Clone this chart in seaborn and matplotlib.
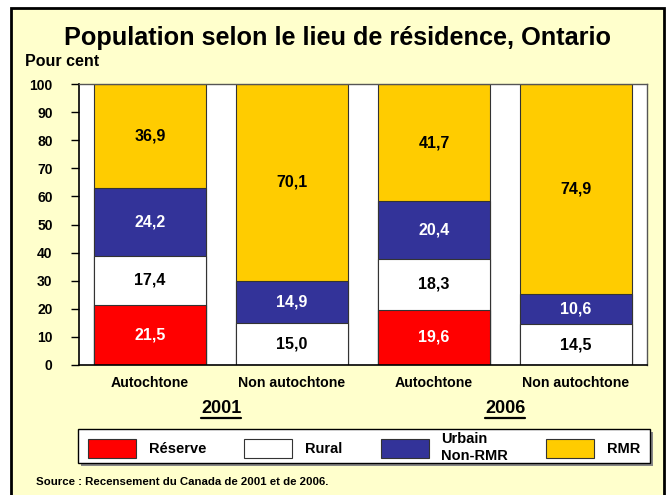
import numpy as np
import matplotlib
matplotlib.use("Agg")
import matplotlib.pyplot as plt
from matplotlib.patches import Patch, Rectangle
from matplotlib.lines import Line2D
import seaborn as sns

# -----------------------------------------------------
# Data
# -----------------------------------------------------
bar_ids = ["A2001", "N2001", "A2006", "N2006"]
bar_labels = ["Autochtone", "Non autochtone", "Autochtone", "Non autochtone"]
years = ["2001", "2006"]

reserve = [21.5, 0.0, 19.6, 0.0]
rural = [17.4, 15.0, 18.3, 14.5]
urbain = [24.2, 14.9, 20.4, 10.6]
rmr = [36.9, 70.1, 41.7, 74.9]

series_names = ["Réserve", "Rural", "Urbain\nNon-RMR", "RMR"]
series_colors = ["#FF0000", "#FFFFFF", "#333399", "#FFCC00"]
text_colors = ["white", "black", "white", "black"]

# -----------------------------------------------------
# Style
# -----------------------------------------------------
sns.set_theme(style="white")
plt.rcParams["font.family"] = ["Liberation Sans", "DejaVu Sans"]
plt.rcParams["font.weight"] = "bold"
plt.rcParams["text.color"] = "black"

W, H = 667, 495
fig = plt.figure(figsize=(W / 100, H / 100), dpi=100, facecolor="white")

# yellow panel with black frame
fig.patches.append(Rectangle((11 / W, -0.05), (664 - 11) / W, 1.05 - 8 / H,
                             transform=fig.transFigure, facecolor="#FFFFCC",
                             edgecolor="black", linewidth=2, zorder=-10))

ax = fig.add_axes([79 / W, (H - 365) / H, (647 - 79) / W, (365 - 84) / H])
ax.set_facecolor("white")

# -----------------------------------------------------
# Stacked bars (drawn back to front as cumulative sums)
# -----------------------------------------------------
layers = np.array([reserve, rural, urbain, rmr])
cum = layers.cumsum(axis=0)
for i in range(3, -1, -1):
    sns.barplot(x=bar_ids, y=cum[i], color=series_colors[i], saturation=1,
                edgecolor="#333333", linewidth=0.8, width=0.785, ax=ax)

bottoms = cum - layers
for i in range(4):
    for j in range(4):
        v = layers[i][j]
        if v <= 0:
            continue
        ax.text(j, bottoms[i][j] + v / 2, f"{v:.1f}".replace(".", ","),
                ha="center", va="center", fontsize=11.5, fontweight="bold",
                color=text_colors[i])

ax.set_xlim(-0.5, 3.5)
ax.set_ylim(0, 100)
ax.set_yticks(range(0, 101, 10))
ax.set_xticks(range(4))
ax.set_xticklabels(bar_labels, fontsize=10.2, fontweight="bold", color="black")
for lab in ax.get_yticklabels():
    lab.set_fontsize(10)
    lab.set_fontweight("bold")
    lab.set_color("black")
ax.set_xlabel("")
ax.set_ylabel("")
ax.tick_params(axis="y", left=True, length=6, width=1, color="black", pad=13)
ax.tick_params(axis="x", bottom=False, pad=2)
for side in ["left", "bottom"]:
    ax.spines[side].set_color("black")
    ax.spines[side].set_linewidth(1.2)
for side in ["top", "right"]:
    ax.spines[side].set_color("#555555")
    ax.spines[side].set_linewidth(1)

# year labels (underlined)
year_texts = []
for k, yr in enumerate(years):
    t = ax.text(2 * k + 0.5, -0.155, yr, transform=ax.get_xaxis_transform(),
                ha="center", va="center", fontsize=13, fontweight="bold")
    year_texts.append(t)

# -----------------------------------------------------
# Titles and source
# -----------------------------------------------------
fig.text(338 / W, 1 - 38 / H, "Population selon le lieu de résidence, Ontario",
         ha="center", va="center", fontsize=18.2, fontweight="bold")
fig.text(25 / W, 1 - 61 / H, "Pour cent", ha="left", va="center",
         fontsize=11.5, fontweight="bold")
fig.text(36 / W, 1 - 482 / H, "Source : Recensement du Canada de 2001 et de 2006.",
         ha="left", va="center", fontsize=8.2, fontweight="bold")

# -----------------------------------------------------
# Legend (frame drawn separately so inner margins match)
# -----------------------------------------------------
fig.patches.append(Rectangle((81 / W, 1 - 466 / H), (650 - 78) / W, 34 / H,
                             transform=fig.transFigure, facecolor="#888888",
                             edgecolor="none", zorder=4))
fig.patches.append(Rectangle((78 / W, 1 - 463 / H), (650 - 78) / W, 34 / H,
                             transform=fig.transFigure, facecolor="white",
                             edgecolor="black", linewidth=1, zorder=5))

handles = [Patch(facecolor=c, edgecolor="#333333", linewidth=0.8) for c in series_colors]
leg = fig.legend(handles, series_names, ncol=4, mode="expand",
                 bbox_to_anchor=(88 / W, 1 - 459 / H, (640 - 88) / W, 23 / H),
                 loc="center", frameon=False,
                 handlelength=3.3, handleheight=1.6, handletextpad=0.85,
                 borderaxespad=0, borderpad=0, labelspacing=0.2,
                 prop={"size": 10.5, "weight": "bold"})
leg.set_zorder(6)

# underline the years
fig.canvas.draw()
renderer = fig.canvas.get_renderer()
for t in year_texts:
    bb = t.get_window_extent(renderer).transformed(fig.transFigure.inverted())
    fig.add_artist(Line2D([bb.x0, bb.x1], [bb.y0 - 1 / H, bb.y0 - 1 / H],
                          transform=fig.transFigure, color="black", linewidth=1.6))

fig.savefig("out.png", dpi=100, facecolor=fig.get_facecolor())
